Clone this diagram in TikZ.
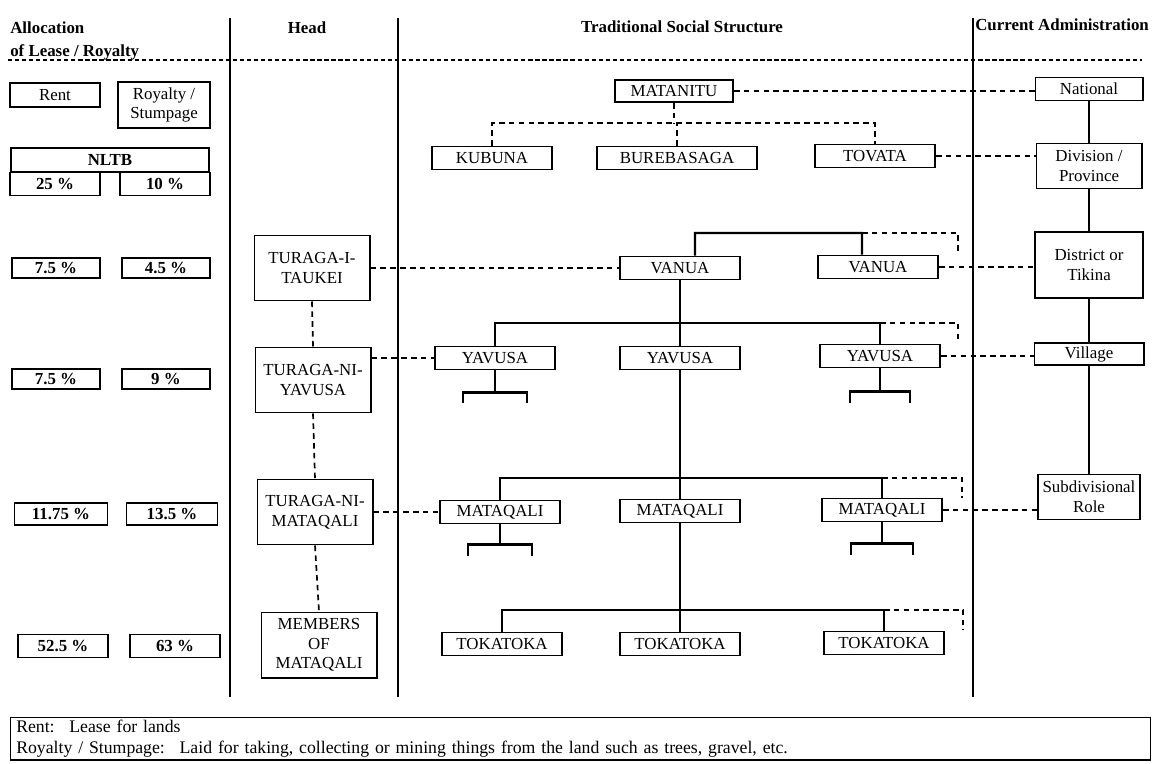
\documentclass[tikz,border=0pt]{standalone}
\usepackage{fontspec}
\setmainfont{Liberation Serif}
\usepackage{tikz}

\begin{document}
\begin{tikzpicture}[x=0.025cm,y=-0.025cm,
    box/.style={draw,line width=1.4pt,inner sep=1pt,align=center},
    pct/.style={box,font=\bfseries,minimum width=2.2cm,minimum height=0.5cm},
    clan/.style={box,minimum width=3cm,minimum height=0.575cm},
    head/.style={box,minimum width=2.875cm,minimum height=1.625cm},
    tree/.style={line width=1.5pt},
    link/.style={line width=1.2pt,dash pattern=on 4pt off 3pt},
    col/.style={line width=1.8pt}]
    \useasboundingbox (0,0) rectangle (1160,764);
    \begin{large}
    \draw[col] (230,18) -- (230,697);
    \draw[col] (398,18) -- (398,697);
    \draw[col] (973,18) -- (973,697);
    \draw[line width=1pt,dash pattern=on 3pt off 2pt] (8,60) -- (1142,60);
    \draw (10,22) node(alloc) [anchor=north west,inner sep=0pt,align=left,font=\bfseries] {Allocation\\[2pt]of Lease / Royalty}
        (307,28) node(thead) [font=\bfseries] {Head}
        (682,27) node(ttrad) [font=\bfseries] {Traditional Social Structure}
        (975,25) node(tcur) [anchor=west,inner sep=0pt,font=\bfseries] {Current Administration};
    \draw (55,95) node(rent) [box,minimum width=2.25cm,minimum height=0.6cm] {Rent}
        (164,105) node(roy) [box,minimum width=2.3cm,minimum height=1.15cm] {Royalty /\\Stumpage}
        (110,160) node(nltb) [box,font=\bfseries,minimum width=4.95cm,minimum height=0.6cm] {NLTB}
        (55,184) node(p25) [pct,minimum width=2.25cm,minimum height=0.575cm] {25 \%}
        (165,184) node(p10) [pct,minimum width=2.25cm,minimum height=0.575cm] {10 \%}
        (56,268) node(a1) [pct] {7.5 \%}
        (166,268) node(b1) [pct] {4.5 \%}
        (56,379) node(a2) [pct] {7.5 \%}
        (166,379) node(b2) [pct] {9 \%}
        (61,514) node(a3) [pct,minimum width=2.325cm,minimum height=0.55cm] {11.75 \%}
        (172,514) node(b3) [pct,minimum width=2.275cm,minimum height=0.55cm] {13.5 \%}
        (63,646) node(a4) [pct,minimum width=2.25cm,minimum height=0.575cm] {52.5 \%}
        (175,646) node(b4) [pct,minimum width=2.25cm,minimum height=0.575cm] {63 \%};
    \draw (312,268) node(tik) [head] {TURAGA-I-\\TAUKEI}
        (313,380) node(tny) [head] {TURAGA-NI-\\YAVUSA}
        (315,512) node(tnm) [head] {TURAGA-NI-\\MATAQALI}
        (319,645) node(mem) [head] {MEMBERS\\OF\\MATAQALI};
    \draw (674,91) node(mat) [clan,minimum width=2.95cm,minimum height=0.55cm] {MATANITU}
        (492,158) node(kub) [clan] {KUBUNA}
        (677,158) node(bur) [clan,minimum width=4cm] {BUREBASAGA}
        (875,156) node(tov) [clan] {TOVATA}
        (680,268) node(van1) [clan] {VANUA}
        (878,267) node(van2) [clan] {VANUA}
        (495,358) node(yav1) [clan] {YAVUSA}
        (680,358) node(yav2) [clan] {YAVUSA}
        (880,356) node(yav3) [clan] {YAVUSA}
        (500,512) node(mq1) [clan] {MATAQALI}
        (680,511) node(mq2) [clan] {MATAQALI}
        (882,510) node(mq3) [clan] {MATAQALI}
        (502,644) node(tk1) [clan] {TOKATOKA}
        (680,644) node(tk2) [clan] {TOKATOKA}
        (884,643) node(tk3) [clan] {TOKATOKA};
    \draw (1089,89) node(nat) [box,minimum width=2.675cm,minimum height=0.575cm] {National}
        (1089,166) node(div) [box,minimum width=2.625cm,minimum height=1.125cm] {Division /\\Province}
        (1089,265) node(dis) [box,minimum width=2.7cm,minimum height=1.65cm] {District or\\Tikina}
        (1089,354) node(vil) [box,minimum width=2.725cm,minimum height=0.55cm] {Village}
        (1089,497) node(sub) [box,minimum width=2.55cm,minimum height=1.125cm] {Subdivisional\\Role};
    \end{large}
    \draw (10,717) node(legend) [draw,line width=0.9pt,anchor=north west,text width=28.2cm,inner xsep=4pt,inner ysep=2pt,minimum height=1.05cm,align=left,font=\fontsize{12.6}{14.5}\selectfont] {Rent:~ Lease for lands\\Royalty / Stumpage:~ Laid for taking, collecting or mining things from the land such as trees, gravel, etc.};
    \coordinate (kb) at (875,123);
    \coordinate (vb) at (862,233);
    \coordinate (ve) at (958,233);
    \coordinate (yb) at (880,323);
    \coordinate (ye) at (958,323);
    \coordinate (mb) at (882,478);
    \coordinate (me) at (962,478);
    \coordinate (tb) at (884,610);
    \coordinate (te) at (963,610);
    \draw[tree] (nat.south) -- (div.north) (div.south) -- (dis.north)
        (dis.south) -- (vil.north) (vil.south) -- (sub.north);
    \draw[tree] (van1.south) -- (yav2.north) (yav2.south) -- (mq2.north)
        (mq2.south) -- (tk2.north);
    \draw[tree] ([xshift=0.375cm]van1.north) |- (vb) -- ([xshift=-0.4cm]van2.north);
    \draw[tree] (yav1.north) |- (yb) -- (yav3.north);
    \draw[tree] (mq1.north) |- (mb) -- (mq3.north);
    \draw[tree] (tk1.north) |- (tb) -- (tk3.north);
    \draw[link] (vb) -- (ve) -- ++(0,20);
    \draw[link] (yb) -- (ye) -- ++(0,20);
    \draw[link] (mb) -- (me) -- ++(0,20);
    \draw[link] (tb) -- (te) -- ++(0,20);
    \draw[tree] (yav1.south) -- ++(0,22) ++(-32,11) -- ++(0,-11) -- ++(64,0) -- ++(0,11);
    \draw[tree] (yav3.south) -- ++(0,23) ++(-30,12) -- ++(0,-12) -- ++(60,0) -- ++(0,12);
    \draw[tree] (mq1.south) -- ++(0,20) ++(-32,12) -- ++(0,-12) -- ++(64,0) -- ++(0,12);
    \draw[tree] (mq3.south) -- ++(0,21) ++(-31,12) -- ++(0,-12) -- ++(62,0) -- ++(0,12);
    \draw[link] (kub.north) |- (kb) -- (tov.north);
    \draw[link] (mat.south) -- (mat.south |- kb);
    \draw[link] (bur.north) -- (bur.north |- kb);
    \draw[link] (mat.east) -- (mat.east -| nat.west);
    \draw[link] (tov.east) -- (tov.east -| div.west);
    \draw[link] (tik.east) -- (van1.west);
    \draw[link] (van2.east) -- (van2.east -| dis.west);
    \draw[link] (yav1.west -| tny.east) -- (yav1.west);
    \draw[link] (yav3.east) -- (yav3.east -| vil.west);
    \draw[link] (mq1.west -| tnm.east) -- (mq1.west);
    \draw[link] (mq3.east) -- (mq3.east -| sub.west);
    \draw[link] (tik.south) -- (tny.north) (tny.south) -- (tnm.north)
        (tnm.south) -- (mem.north);
\end{tikzpicture}
\end{document}
